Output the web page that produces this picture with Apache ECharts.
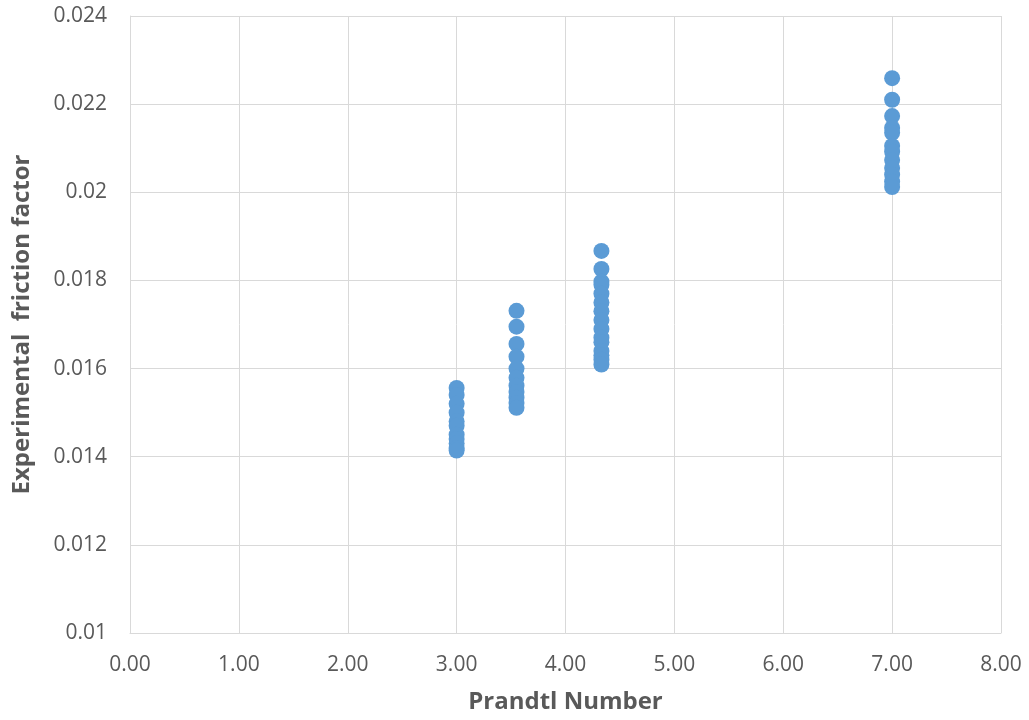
<!DOCTYPE html>
<html>
<head>
<meta charset="utf-8">
<script src="https://cdn.jsdelivr.net/npm/echarts@6/dist/echarts.min.js"></script>
<style>html,body{margin:0;padding:0;background:#fff}#c{width:1029px;height:720px}</style>
</head>
<body>
<div id="c"></div>
<script>
const prandtl1 = 3.0;
const friction1 = [0.01556, 0.0154, 0.0152, 0.0150, 0.0148, 0.0147, 0.0145, 0.0144, 0.0143, 0.0142, 0.01414];
const prandtl2 = 3.55;
const friction2 = [0.01731, 0.01695, 0.01656, 0.01627, 0.0160, 0.01579, 0.01561, 0.01547, 0.01534, 0.01522, 0.01511];
const prandtl3 = 4.33;
const friction3 = [0.01867, 0.01826, 0.01797, 0.0179, 0.0177, 0.0175, 0.0173, 0.0171, 0.0169, 0.0167, 0.0166, 0.0164, 0.0163, 0.0162, 0.01609];
const prandtl4 = 7.0;
const friction4 = [0.02259, 0.0221, 0.02173, 0.02146, 0.02135, 0.02105, 0.02092, 0.02073, 0.02055, 0.0204, 0.02024, 0.02012];

const groups = [[prandtl1, friction1], [prandtl2, friction2], [prandtl3, friction3], [prandtl4, friction4]];
const points = [];
groups.forEach(([x, ys]) => ys.forEach(y => points.push([x, y])));

const chart = echarts.init(document.getElementById('c'));
chart.setOption({
  animation: false,
  grid: { left: 130, right: 28, top: 16, bottom: 87 },
  xAxis: {
    type: 'value', min: 0, max: 8, interval: 1,
    name: 'Prandtl Number', nameLocation: 'middle', nameGap: 57,
    nameTextStyle: { fontFamily: 'Open Sans', fontWeight: 'bold', fontSize: 24, color: '#595959' },
    axisLine: { show: true, lineStyle: { color: '#d9d9d9' } },
    axisTick: { show: false },
    axisLabel: { fontFamily: 'Open Sans', fontSize: 21, color: '#595959', margin: 22, formatter: v => v.toFixed(2) },
    splitLine: { show: true, lineStyle: { color: '#d9d9d9' } }
  },
  yAxis: {
    type: 'value', min: 0.01, max: 0.024, interval: 0.002,
    name: 'Experimental  friction factor', nameLocation: 'middle', nameGap: 96,
    nameTextStyle: { fontFamily: 'Open Sans', fontWeight: 'bold', fontSize: 24, color: '#595959' },
    axisLine: { show: true, lineStyle: { color: '#d9d9d9' } },
    axisTick: { show: false },
    axisLabel: { fontFamily: 'Open Sans', fontSize: 21, color: '#595959', margin: 23, formatter: v => String(parseFloat(v.toFixed(3))) },
    splitLine: { show: true, lineStyle: { color: '#d9d9d9' } }
  },
  series: [{
    type: 'scatter', data: points, symbolSize: 16,
    itemStyle: { color: '#5B9BD5', opacity: 1 }
  }]
});
</script>
</body>
</html>
